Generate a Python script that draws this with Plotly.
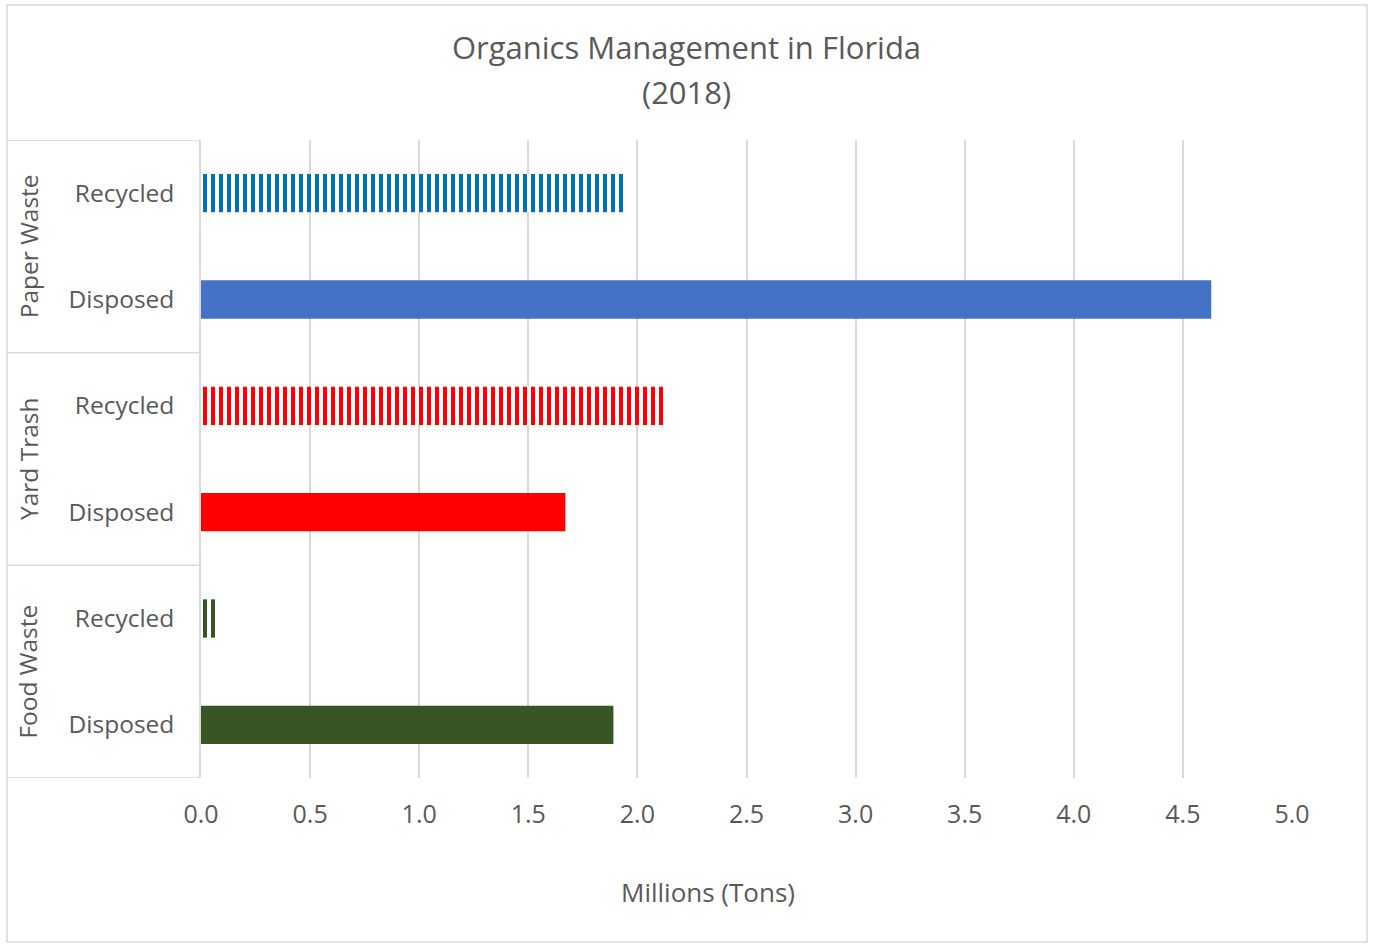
import plotly.graph_objects as go

# Data (bottom to top in the plot)
groups = ["Food Waste", "Food Waste", "Yard Trash", "Yard Trash", "Paper Waste", "Paper Waste"]
subs = ["Disposed", "Recycled", "Disposed", "Recycled", "Disposed", "Recycled"]
values = [1.89, 0.08, 1.67, 2.13, 4.63, 1.95]
colors = ["#375623", "#375623", "#FF0000", "#FF0000", "#4472C4", "#0070C0"]
patterned = [False, True, False, True, False, True]
x_ticks = [0.0, 0.5, 1.0, 1.5, 2.0, 2.5, 3.0, 3.5, 4.0, 4.5, 5.0]
group_names = ["Food Waste", "Yard Trash", "Paper Waste"]

cats = [f"{g}|{s}" for g, s in zip(groups, subs)]

W, H = 1373, 944
L, R, T, B = 201, 1292, 140, 778
pw, ph = R - L, B - T

fig = go.Figure()
for c, v, col, pat in zip(cats, values, colors, patterned):
    marker = dict(color=col, line=dict(width=0))
    if pat:
        marker["pattern"] = dict(shape="|", size=8, solidity=0.5, fgcolor=col,
                                 bgcolor="white", fillmode="replace")
    fig.add_trace(go.Bar(x=[v], y=[c], orientation="h", marker=marker,
                         showlegend=False, hoverinfo="x+y"))

font_fam = "'Open Sans', Lato, sans-serif"
grey = "#595959"

fig.update_layout(
    width=W, height=H,
    margin=dict(l=L, r=W - R, t=T, b=H - B, autoexpand=False),
    paper_bgcolor="white", plot_bgcolor="white",
    bargap=0.64, barmode="group",
    font=dict(family=font_fam, color=grey, size=24),
    title=dict(text="Organics Management in Florida", x=0.5, xref="container",
               xanchor="center", y=1 - 48 / H, yref="container", yanchor="middle",
               font=dict(size=31, color=grey, family=font_fam)),
    xaxis=dict(range=[0, 5], tickvals=x_ticks, ticktext=[f"{t:.1f}" for t in x_ticks],
               showgrid=True, gridcolor="#D9D9D9", gridwidth=1.5, zeroline=False,
               showline=False, ticks="", ticklabelstandoff=19,
               tickfont=dict(size=25, color=grey)),
    yaxis=dict(type="category", categoryorder="array", categoryarray=cats,
               tickvals=cats, ticktext=subs, showgrid=False, zeroline=False,
               showline=True, linecolor="#D9D9D9", linewidth=1.5, ticks="",
               ticklabelstandoff=20, range=[-0.5, 5.5],
               tickfont=dict(size=24.5, color=grey)),
)

# second title line
fig.add_annotation(text="(2018)", xref="paper", yref="paper",
                   x=(W / 2 - L) / pw, y=(B - 92) / ph, showarrow=False,
                   xanchor="center", yanchor="middle", font=dict(size=31, color=grey))

# x-axis title
fig.add_annotation(text="Millions (Tons)", xref="paper", yref="paper",
                   x=(708 - L) / pw, y=-(892 - B) / ph, showarrow=False,
                   xanchor="center", yanchor="middle", font=dict(size=26, color=grey))

# outer border
x0b, x1b = (7 - L) / pw, (1367 - L) / pw
fig.add_shape(type="rect", xref="paper", yref="paper",
              x0=x0b, x1=x1b, y0=-(942 - B) / ph, y1=(B - 5) / ph,
              line=dict(color="#D9D9D9", width=1.5), fillcolor="rgba(0,0,0,0)", layer="below")

# group dividers in the label area
for yv in [-0.5, 1.5, 3.5, 5.5]:
    fig.add_shape(type="line", xref="paper", yref="y", x0=x0b, x1=0, y0=yv, y1=yv,
                  line=dict(color="#D9D9D9", width=1.5))

# group labels
for i, gname in enumerate(group_names):
    fig.add_annotation(text=gname, xref="paper", yref="y", x=(28 - L) / pw, y=2 * i + 0.5,
                       textangle=-90, showarrow=False, xanchor="center", yanchor="middle",
                       font=dict(size=24.5, color=grey))

fig.write_html("out.html", config={"displayModeBar": False},
               post_script="document.body.style.margin='0px';")
